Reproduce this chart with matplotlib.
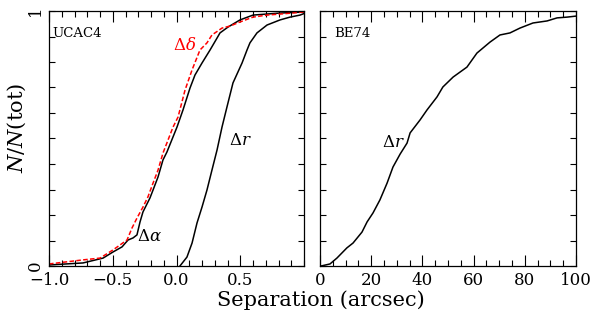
import matplotlib
matplotlib.use("Agg")
import matplotlib.pyplot as plt
from matplotlib.ticker import MultipleLocator, FixedLocator, NullFormatter

plt.rcParams["font.family"] = "DejaVu Serif"
plt.rcParams["mathtext.fontset"] = "dejavuserif"

# UCAC4 cumulative distributions (arcsec offsets)
da_x = [-1.0, -0.733, -0.576, -0.498, -0.427, -0.380, -0.341, -0.310, -0.286, -0.263,
        -0.208, -0.184, -0.145, -0.106, -0.075, 0.004, 0.051, 0.106, 0.145, 0.200,
        0.263, 0.318, 0.341, 0.404, 0.498, 0.600, 0.812, 1.0]
da_y = [0.004, 0.012, 0.031, 0.055, 0.075, 0.102, 0.110, 0.122, 0.173, 0.212,
        0.267, 0.298, 0.349, 0.416, 0.447, 0.545, 0.612, 0.698, 0.749, 0.796,
        0.847, 0.894, 0.914, 0.937, 0.965, 0.984, 0.992, 0.996]

dd_x = [-1.0, -0.733, -0.600, -0.498, -0.388, -0.349, -0.310, -0.263, -0.224, -0.184,
        -0.145, -0.106, -0.027, 0.012, 0.067, 0.122, 0.184, 0.239, 0.278, 0.357,
        0.420, 0.498, 0.600, 0.710, 0.812, 1.0]
dd_y = [0.008, 0.024, 0.031, 0.063, 0.102, 0.149, 0.188, 0.231, 0.271, 0.325,
        0.376, 0.443, 0.545, 0.584, 0.690, 0.769, 0.847, 0.875, 0.906, 0.933,
        0.941, 0.957, 0.976, 0.984, 0.988, 0.996]

dr_x = [0.027, 0.082, 0.122, 0.161, 0.200, 0.239, 0.278, 0.318, 0.357, 0.396,
        0.443, 0.514, 0.553, 0.576, 0.631, 0.710, 0.812, 0.890, 0.969, 1.0]
dr_y = [0.0, 0.035, 0.090, 0.169, 0.231, 0.298, 0.376, 0.455, 0.545, 0.624,
        0.718, 0.796, 0.847, 0.875, 0.914, 0.945, 0.965, 0.976, 0.984, 0.99]

# BE74 cumulative distribution
be_x = [0.4, 3.9, 6.6, 10.5, 12.9, 16.4, 18.4, 20.7, 23.4, 26.2, 28.5, 31.3, 34.0,
        35.2, 39.1, 41.8, 45.7, 48.0, 52.0, 57.4, 61.3, 66.4, 70.3, 74.2, 78.1,
        83.2, 88.7, 92.6, 96.5, 100.0]
be_y = [0.0, 0.008, 0.031, 0.071, 0.090, 0.133, 0.173, 0.208, 0.259, 0.325, 0.388,
        0.439, 0.482, 0.522, 0.573, 0.612, 0.663, 0.702, 0.741, 0.780, 0.835,
        0.878, 0.906, 0.914, 0.933, 0.953, 0.961, 0.973, 0.976, 0.980]

fig = plt.figure(figsize=(5.94, 3.17), dpi=100)
ax1 = fig.add_axes([49 / 594, 1 - 266 / 317, 255 / 594, 255 / 317])
ax2 = fig.add_axes([320 / 594, 1 - 266 / 317, 256 / 594, 255 / 317])

lw = 1.1
ax1.plot(da_x, da_y, color="black", lw=lw)
ax1.plot(dr_x, dr_y, color="black", lw=lw)
ax1.plot(dd_x, dd_y, color="red", lw=lw, ls=(0, (3, 1.5)))
ax2.plot(be_x, be_y, color="black", lw=lw)

ax1.set_xlim(-1, 1)
ax2.set_xlim(0, 100)
for ax in (ax1, ax2):
    ax.set_ylim(0, 1)
    ax.tick_params(which="both", direction="in", top=True, right=True,
                   labelsize=12, width=0.8, pad=4)
    ax.tick_params(which="major", axis="x", length=8)
    ax.tick_params(which="minor", length=4)
    ax.tick_params(which="major", axis="y", length=4)
    ax.yaxis.set_major_locator(FixedLocator([0, 1]))
    ax.yaxis.set_minor_locator(MultipleLocator(0.1))
    for s in ax.spines.values():
        s.set_linewidth(0.9)

ax1.xaxis.set_major_locator(FixedLocator([-1.0, -0.5, 0.0, 0.5]))
ax1.xaxis.set_minor_locator(MultipleLocator(0.1))
ax1.set_xticklabels(["\u22121.0", "\u22120.5", "0.0", "0.5"])
ax1.set_yticklabels(["0", "1"], rotation=90, va="center")

ax2.xaxis.set_major_locator(MultipleLocator(20))
ax2.xaxis.set_minor_locator(MultipleLocator(5))
ax2.yaxis.set_major_formatter(NullFormatter())

fig.text(17 / 594, 1 - 128 / 317, r"$N/N$(tot)", rotation=90, fontsize=15,
         ha="center", va="center")
fig.text(321 / 594, 1 - 300 / 317, "Separation (arcsec)", ha="center", va="center",
         fontsize=15)

ax1.text(-0.976, 0.912, "UCAC4", fontsize=9.5, va="center", ha="left")
ax2.text(5.5, 0.912, "BE74", fontsize=9.5, va="center", ha="left")
ax1.text(0.06, 0.865, r"$\Delta\delta$", color="red", fontsize=12, ha="center", va="center")
ax1.text(0.50, 0.494, r"$\Delta r$", fontsize=12, ha="center", va="center")
ax1.text(-0.21, 0.114, r"$\Delta\alpha$", fontsize=12, ha="center", va="center")
ax2.text(28.5, 0.486, r"$\Delta r$", fontsize=12, ha="center", va="center")

fig.savefig("out.png", dpi=100)
